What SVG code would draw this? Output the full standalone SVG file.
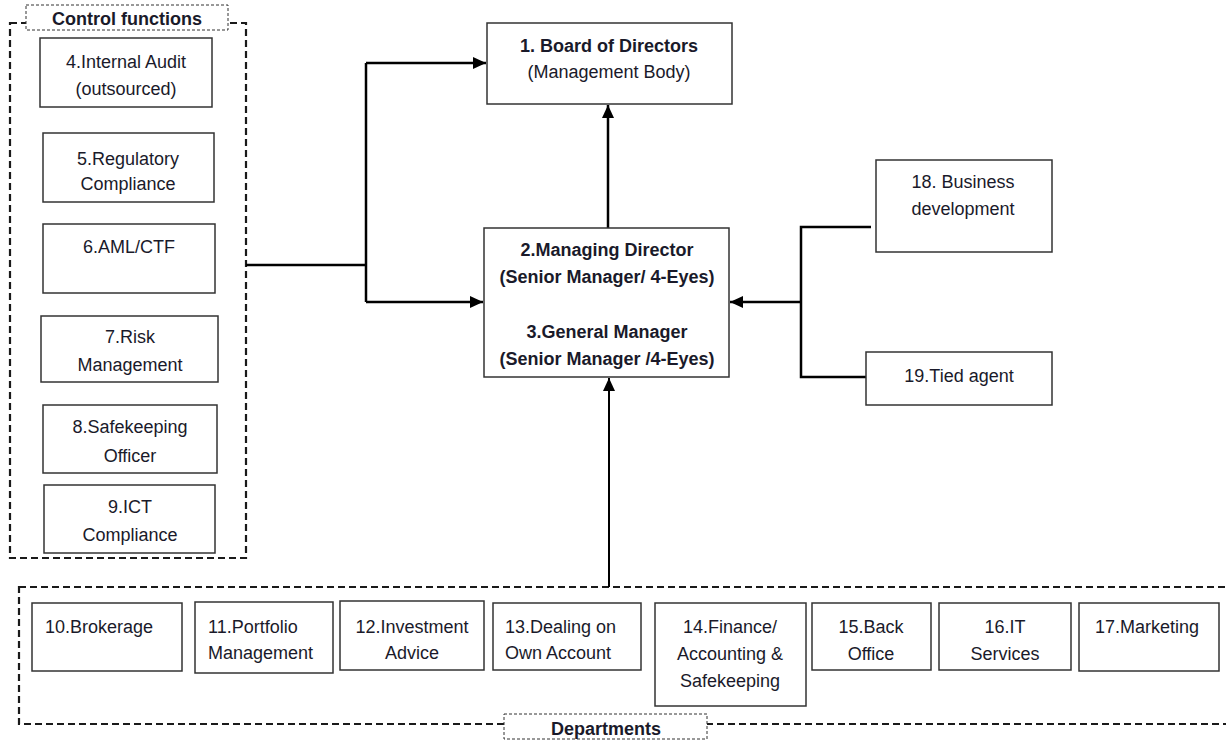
<svg xmlns="http://www.w3.org/2000/svg" width="1226" height="740" viewBox="0 0 1226 740">
<style>
.bg{fill:#ffffff}
.box{fill:#ffffff;stroke:#333333;stroke-width:1.5}
.cont{fill:none;stroke:#1a1a1a;stroke-width:2.2;stroke-dasharray:7 4}
.lbl{fill:#ffffff;stroke:#333333;stroke-width:1;stroke-dasharray:3 2}
.t{font-family:"Liberation Sans",Arial,sans-serif;font-size:18px;fill:#1a1a2a;text-anchor:middle}
.tl{font-family:"Liberation Sans",Arial,sans-serif;font-size:18px;fill:#1a1a2a;text-anchor:start}
.b{font-weight:bold}
.ln{fill:none;stroke:#000000;stroke-width:2.5}
.ln2{fill:none;stroke:#000000;stroke-width:2}
</style>
<defs>
<marker id="arr" markerUnits="userSpaceOnUse" markerWidth="14" markerHeight="12" refX="13" refY="6" orient="auto">
<path d="M0,0 L13,6 L0,12 Z" fill="#000000"/>
</marker>
</defs>
<rect class="bg" x="0" y="0" width="1226" height="740"/>

<g id="control-functions">
<rect class="cont" x="10" y="23" width="236" height="535"/>
<rect class="lbl" x="26" y="5" width="202" height="25"/>
<text class="t b" x="127" y="25">Control functions</text>
</g>

<g id="departments">
<rect class="cont" x="19" y="587" width="1230" height="137"/>
<rect class="lbl" x="504" y="714" width="203" height="25"/>
<text class="t b" x="606" y="735">Departments</text>
</g>

<g id="connectors">
<path class="ln" d="M246,265 H366"/>
<path class="ln" d="M366,63 V302"/>
<path class="ln" d="M366,63 H486" marker-end="url(#arr)"/>
<path class="ln" d="M366,302 H483" marker-end="url(#arr)"/>
<path class="ln" d="M608,228 V105" marker-end="url(#arr)"/>
<path class="ln2" d="M609,587 V378" marker-end="url(#arr)"/>
<path class="ln" d="M871,227 H801 V377 H866"/>
<path class="ln" d="M801,302 H730" marker-end="url(#arr)"/>
</g>

<g id="n1">
<rect class="box" x="487" y="23" width="245" height="81"/>
<text class="t b" x="609" y="52">1. Board of Directors</text>
<text class="t" x="609" y="78">(Management Body)</text>
</g>

<g id="n2">
<rect class="box" x="484" y="228" width="245" height="149"/>
<text class="t b" x="607" y="256">2.Managing Director</text>
<text class="t b" x="607" y="283">(Senior Manager/ 4-Eyes)</text>
<text class="t b" x="607" y="338">3.General Manager</text>
<text class="t b" x="607" y="365">(Senior Manager /4-Eyes)</text>
</g>

<g id="n4">
<rect class="box" x="40" y="38" width="172" height="69"/>
<text class="t" x="126" y="68">4.Internal Audit</text>
<text class="t" x="126" y="95">(outsourced)</text>
</g>
<g id="n5">
<rect class="box" x="43" y="133" width="171" height="69"/>
<text class="t" x="128" y="165">5.Regulatory</text>
<text class="t" x="128" y="190">Compliance</text>
</g>
<g id="n6">
<rect class="box" x="43" y="224" width="172" height="69"/>
<text class="t" x="129" y="253">6.AML/CTF</text>
</g>
<g id="n7">
<rect class="box" x="41" y="316" width="177" height="66"/>
<text class="t" x="130" y="343">7.Risk</text>
<text class="t" x="130" y="371">Management</text>
</g>
<g id="n8">
<rect class="box" x="43" y="405" width="174" height="68"/>
<text class="t" x="130" y="433">8.Safekeeping</text>
<text class="t" x="130" y="462">Officer</text>
</g>
<g id="n9">
<rect class="box" x="44" y="485" width="171" height="68"/>
<text class="t" x="130" y="513">9.ICT</text>
<text class="t" x="130" y="541">Compliance</text>
</g>

<g id="n18">
<rect class="box" x="876" y="160" width="176" height="92"/>
<text class="t" x="963" y="188">18. Business</text>
<text class="t" x="963" y="215">development</text>
</g>
<g id="n19">
<rect class="box" x="866" y="352" width="186" height="53"/>
<text class="t" x="959" y="382">19.Tied agent</text>
</g>

<g id="n10">
<rect class="box" x="32" y="603" width="150" height="68"/>
<text class="tl" x="45" y="633">10.Brokerage</text>
</g>
<g id="n11">
<rect class="box" x="195" y="602" width="138" height="71"/>
<text class="tl" x="208" y="633">11.Portfolio</text>
<text class="tl" x="208" y="659">Management</text>
</g>
<g id="n12">
<rect class="box" x="340" y="601" width="144" height="69"/>
<text class="t" x="412" y="633">12.Investment</text>
<text class="t" x="412" y="659">Advice</text>
</g>
<g id="n13">
<rect class="box" x="493" y="603" width="148" height="67"/>
<text class="tl" x="505" y="633">13.Dealing on</text>
<text class="tl" x="505" y="659">Own Account</text>
</g>
<g id="n14">
<rect class="box" x="655" y="603" width="151" height="103"/>
<text class="t" x="730" y="633">14.Finance/</text>
<text class="t" x="730" y="660">Accounting &amp;</text>
<text class="t" x="730" y="687">Safekeeping</text>
</g>
<g id="n15">
<rect class="box" x="812" y="603" width="119" height="67"/>
<text class="t" x="871" y="633">15.Back</text>
<text class="t" x="871" y="660">Office</text>
</g>
<g id="n16">
<rect class="box" x="939" y="603" width="132" height="67"/>
<text class="t" x="1005" y="633">16.IT</text>
<text class="t" x="1005" y="660">Services</text>
</g>
<g id="n17">
<rect class="box" x="1079" y="603" width="140" height="68"/>
<text class="t" x="1147" y="633">17.Marketing</text>
</g>
</svg>
